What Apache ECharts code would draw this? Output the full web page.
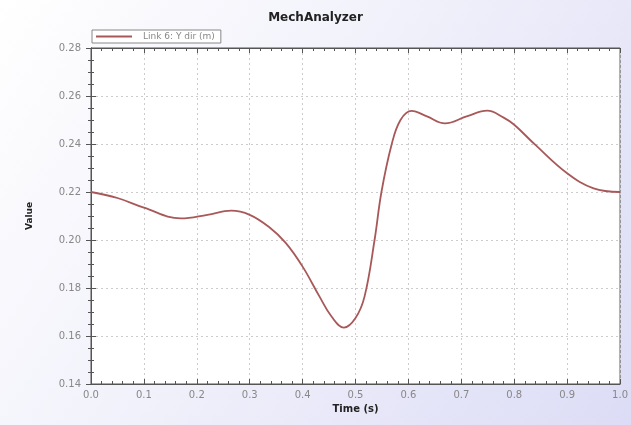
<!DOCTYPE html>
<html>
<head>
<meta charset="utf-8">
<script src="https://cdn.jsdelivr.net/npm/echarts@6/dist/echarts.min.js"></script>
<style>html,body{margin:0;padding:0;}#c{width:631px;height:425px;}</style>
</head>
<body>
<div id="c"></div>
<script>
var times  = [0, 0.05, 0.1, 0.17, 0.22, 0.265, 0.3, 0.336, 0.368, 0.4, 0.432, 0.455, 0.478, 0.5, 0.517, 0.536, 0.549, 0.568, 0.585, 0.606, 0.635, 0.669, 0.71, 0.749, 0.78, 0.8, 0.84, 0.9, 0.95, 1.0];
var values = [0.220, 0.2175, 0.2135, 0.209, 0.2105, 0.2122, 0.2105, 0.2055, 0.1988, 0.1889, 0.1764, 0.168, 0.1635, 0.1675, 0.1764, 0.200, 0.220, 0.2396, 0.250, 0.2538, 0.2515, 0.2486, 0.2515, 0.2539, 0.251, 0.248, 0.2396, 0.2278, 0.2215, 0.220];
var seriesName = 'Link 6: Y dir (m)';

var data = times.map(function (t, i) { return [t, values[i]]; });
var chart = echarts.init(document.getElementById('c'));
function axisCommon(split) {
  return {
    axisLine: { show: true, lineStyle: { color: '#555', width: 1 } },
    axisTick: { show: true, inside: true, length: 5, lineStyle: { color: '#555' } },
    minorTick: { show: true, splitNumber: split, length: 3, lineStyle: { color: '#555' } }
  };
}
chart.setOption({
  backgroundColor: {
    type: 'linear', x: 0, y: 0, x2: 1, y2: 1,
    colorStops: [{ offset: 0, color: '#ffffff' }, { offset: 0.45, color: '#f1f1fb' }, { offset: 1, color: '#dcdcf6' }]
  },
  animation: false,
  title: {
    text: 'MechAnalyzer', left: 'center', top: 7,
    textStyle: { fontFamily: 'DejaVu Sans', fontSize: 12, fontWeight: 'bold', color: '#222' }
  },
  legend: {
    left: 92, top: 30, orient: 'horizontal',
    data: [seriesName],
    icon: 'rect', itemWidth: 36, itemHeight: 2, itemGap: 4,
    borderColor: '#888', borderWidth: 1, padding: [2, 6, 2, 4],
    backgroundColor: '#fff',
    textStyle: { fontFamily: 'DejaVu Sans', fontSize: 9, color: '#888', padding: [0, 0, 0, 6] }
  },
  grid: { left: 91, top: 48, right: 8, bottom: 41, show: true, backgroundColor: '#fff', borderColor: '#555', borderWidth: 1 },
  xAxis: [Object.assign({
    type: 'value', min: 0, max: 1, interval: 0.1,
    name: 'Time (s)', nameLocation: 'middle', nameGap: 20,
    nameTextStyle: { fontFamily: 'DejaVu Sans', fontSize: 10, fontWeight: 'bold', color: '#222' },
    axisLabel: { fontFamily: 'DejaVu Sans', fontSize: 10, color: '#888', margin: 6, formatter: function (v) { return v.toFixed(1); } },
    splitLine: { show: true, lineStyle: { color: '#ccc', type: [2, 3] } }
  }, axisCommon(5)), Object.assign({
    type: 'value', min: 0, max: 1, interval: 0.1, position: 'top',
    axisLabel: { show: false }, splitLine: { show: false }
  }, axisCommon(5))],
  yAxis: [Object.assign({
    type: 'value', min: 0.14, max: 0.28, interval: 0.02,
    name: 'Value', nameLocation: 'middle', nameGap: 57, nameRotate: 90,
    nameTextStyle: { fontFamily: 'DejaVu Sans', fontSize: 9, fontWeight: 'bold', color: '#222' },
    axisLabel: { fontFamily: 'DejaVu Sans', fontSize: 10, color: '#888', margin: 10, formatter: function (v) { return v.toFixed(2); } },
    splitLine: { show: true, lineStyle: { color: '#ccc', type: [2, 3] } }
  }, axisCommon(4)), Object.assign({
    type: 'value', min: 0.14, max: 0.28, interval: 0.02, position: 'right',
    axisLabel: { show: false }, splitLine: { show: false }
  }, axisCommon(4))],
  series: [{
    name: seriesName, type: 'line', data: data, smooth: 0.4,
    showSymbol: false, symbol: 'none',
    lineStyle: { color: '#a85858', width: 1.8 },
    itemStyle: { color: '#a85858' }
  }]
});
</script>
</body>
</html>
